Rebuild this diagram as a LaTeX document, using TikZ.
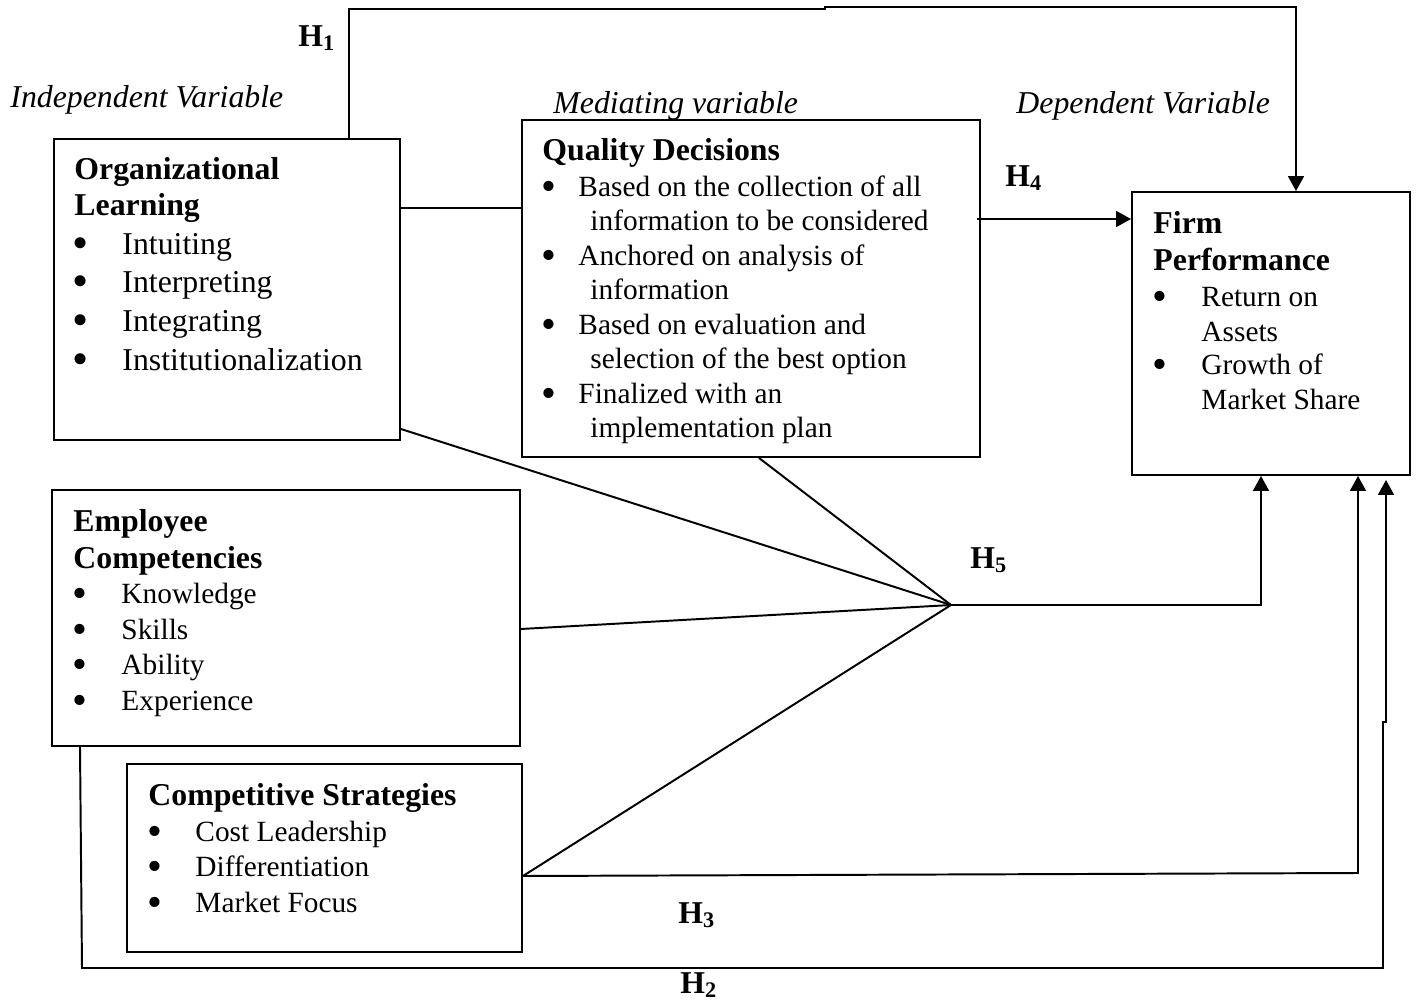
\documentclass[tikz,border=0pt]{standalone}
\usepackage{fontspec}
\setmainfont{Liberation Serif}
\usetikzlibrary{arrows.meta,fit,calc}

\newcommand{\bigdot}{\raisebox{-1.7pt}{\scalebox{1.45}{\textbullet}}}

\begin{document}
\begin{tikzpicture}[
    x=0.409pt, y=-0.409pt,
    varbox/.style={rectangle, draw, line width=0.8pt, inner sep=0pt},
    head/.style={anchor=base west, inner sep=0pt, font=\fontsize{13}{15}\selectfont\bfseries},
    body/.style={anchor=base west, inner sep=0pt, font=\fontsize{12}{14}\selectfont},
    bodybig/.style={anchor=base west, inner sep=0pt, font=\fontsize{13}{15}\selectfont},
    dot/.style={anchor=base, inner sep=0pt, font=\fontsize{12}{14}\selectfont},
    varlabel/.style={anchor=base west, inner sep=0pt, font=\fontsize{13}{15}\selectfont\itshape},
    hyp/.style={anchor=base west, inner sep=0pt, font=\fontsize{13}{15}\selectfont\bfseries},
    link/.style={line width=0.8pt},
    arrow/.style={line width=0.8pt, -{Triangle[length=6.1pt, width=6.5pt]}}
]
\useasboundingbox (0,0) rectangle (1416,1000);

% Column headings
\node[varlabel] (iv) at (10,107) {Independent Variable};
\node[varlabel] (mv) at (553,113) {Mediating variable};
\node[varlabel] (dv) at (1016,113) {Dependent Variable};

% Organizational Learning
\node[varbox, fit={(54,139) (400,440)}] (ol) {};
\node[head] (ol-h1) at (74,179) {Organizational};
\node[head] (ol-h2) at (74,215) {Learning};
\foreach \y/\t [count=\i] in {254/Intuiting, 292/Interpreting, 331/Integrating, 370/Institutionalization}{
    \node[dot, font=\fontsize{13}{15}\selectfont] (ol-b\i) at (81,\y) {\bigdot};
    \node[bodybig] (ol-\i) at (122,\y) {\t};
}

% Quality Decisions
\node[varbox, fit={(522,120) (980,457)}] (qd) {};
\node[head] (qd-h) at (542,160) {Quality Decisions};
\foreach \y/\a/\b [count=\i] in {196/Based on the collection of all/information to be considered,
                                 265/Anchored on analysis of/information,
                                 334/Based on evaluation and/selection of the best option,
                                 403/Finalized with an/implementation plan}{
    \node[dot] (qd-b\i) at (549,\y) {\bigdot};
    \node[body] (qd-\i a) at (578,\y) {\a};
    \node[body] (qd-\i b) at (590,{\y+34}) {\b};
}

% Firm Performance
\node[varbox, fit={(1132,192) (1410,475)}] (fp) {};
\node[head] (fp-h1) at (1153,233) {Firm};
\node[head] (fp-h2) at (1153,270) {Performance};
\foreach \y/\a/\b [count=\i] in {306/Return on/Assets, 374/Growth of/Market Share}{
    \node[dot] (fp-b\i) at (1160,\y) {\bigdot};
    \node[body] (fp-\i a) at (1201,\y) {\a};
    \node[body] (fp-\i b) at (1201,{\y+35}) {\b};
}

% Employee Competencies
\node[varbox, fit={(52,490) (520,746)}] (ec) {};
\node[head] (ec-h1) at (73,531) {Employee};
\node[head] (ec-h2) at (73,568) {Competencies};
\foreach \y/\t [count=\i] in {603/Knowledge, 639/Skills, 674/Ability, 710/Experience}{
    \node[dot] (ec-b\i) at (80,\y) {\bigdot};
    \node[body] (ec-\i) at (121,\y) {\t};
}

% Competitive Strategies
\node[varbox, fit={(127,764) (522,952)}] (cs) {};
\node[head] (cs-h) at (148,805) {Competitive Strategies};
\foreach \y/\t [count=\i] in {841/Cost Leadership, 876/Differentiation, 912/Market Focus}{
    \node[dot] (cs-b\i) at (155,\y) {\bigdot};
    \node[body] (cs-\i) at (195,\y) {\t};
}

% Hypothesis labels
\node[hyp] (h1) at (298,46) {H\textsubscript{1}};
\node[hyp] (h4) at (1005,186) {H\textsubscript{4}};
\node[hyp] (h5) at (970,568) {H\textsubscript{5}};
\node[hyp] (h3) at (678,923) {H\textsubscript{3}};
\node[hyp] (h2) at (680,993) {H\textsubscript{2}};

% Joint point of H5
\coordinate (hub) at (951,605);

% Connectors
\draw[link] (ol.east |- 0,208) -- (qd.west |- 0,208);
\draw[arrow] ($(qd.east |- 0,219)+(-4,0)$) -- (fp.west |- 0,219);
\draw[arrow] (ol.north -| 349,0) -- (349,9) -- (825,9) -- (825,7) -- (1296,7) -- (fp.north -| 1296,0);

\draw[link] (ol.east |- 0,429) -- (hub);
\draw[link] (qd.south -| 759,0) -- (hub);
\draw[link] (ec.east |- 0,629) -- (hub);
\draw[link] (cs.east |- 0,876) -- (hub);
\draw[arrow] (hub) -- (1261,605) -- (fp.south -| 1261,0);

\draw[arrow] (cs.east |- 0,876) -- (1358,873) -- (fp.south -| 1358,0);
\draw[arrow] (ec.south -| 80,0) -- (82,968) -- (1383,968) -- (1383,722) -- (1386,722) -- ($(fp.south -| 1386,0)+(0,4)$);

\end{tikzpicture}
\end{document}
